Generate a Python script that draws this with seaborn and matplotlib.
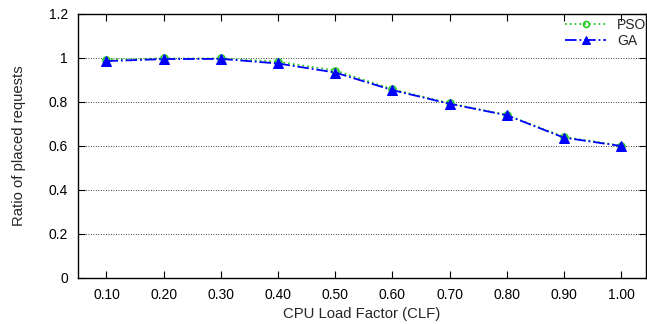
import seaborn as sns
import matplotlib.pyplot as plt
import pandas as pd

# data
clf = [0.10, 0.20, 0.30, 0.40, 0.50, 0.60, 0.70, 0.80, 0.90, 1.00]
pso = [0.993, 0.998, 0.998, 0.983, 0.943, 0.858, 0.794, 0.741, 0.641, 0.602]
ga = [0.986, 0.995, 0.996, 0.975, 0.934, 0.854, 0.792, 0.740, 0.638, 0.600]
y_ticks = [0, 0.2, 0.4, 0.6, 0.8, 1.0, 1.2]
y_tick_labels = ["0", "0.2", "0.4", "0.6", "0.8", "1", "1.2"]

df = pd.DataFrame({"clf": clf, "PSO": pso, "GA": ga})

sns.set_style("ticks")
plt.rcParams["font.family"] = ["Liberation Sans", "DejaVu Sans"]

fig = plt.figure(figsize=(6.47, 3.24), dpi=100)
ax = fig.add_axes([0.1198, 0.142, 0.8787, 0.8148])

sns.lineplot(data=df, x="clf", y="PSO", ax=ax, color="#22cc22", linestyle=":",
             linewidth=1.3, marker="o", markersize=5, markerfacecolor="none",
             markeredgecolor="#22cc22", markeredgewidth=1.2, label="PSO")
sns.lineplot(data=df, x="clf", y="GA", ax=ax, color="#0000ff", linestyle="-.",
             linewidth=1.3, marker="^", markersize=6.5, markerfacecolor="#0000ff",
             markeredgecolor="#0000ff", label="GA")

ax.set_xlim(0.0493, 1.0437)
ax.set_ylim(0, 1.2)
ax.set_xticks(clf)
ax.set_xticklabels([f"{v:.2f}" for v in clf])
ax.set_yticks(y_ticks)
ax.set_yticklabels(y_tick_labels)
ax.tick_params(direction="in", length=5, width=0.8, top=True, right=True,
               labelsize=10, colors="black", pad=7)
ax.yaxis.grid(True, linestyle=(0, (1, 2)), color="black", linewidth=0.6)

for s in ax.spines.values():
    s.set_color("black")
    s.set_linewidth(1.0)

ax.set_xlabel("CPU Load Factor (CLF)", fontsize=10.7, labelpad=3.5)
ax.set_ylabel("Ratio of placed requests", fontsize=10.7, labelpad=16)

leg = ax.legend(loc="upper right", bbox_to_anchor=(1.0, 0.985), frameon=False,
                fontsize=10, handlelength=2.9, handletextpad=0.8, labelspacing=0.15,
                borderpad=0, borderaxespad=0, markerscale=0.85)

fig.savefig("out.png", dpi=100)
